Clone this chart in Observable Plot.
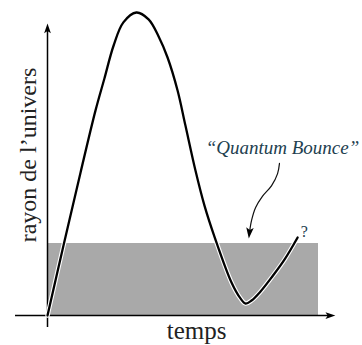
<!DOCTYPE html>
<html>
<head>
<meta charset="utf-8">
<script src="https://cdn.jsdelivr.net/npm/d3@7"></script>
<script src="https://cdn.jsdelivr.net/npm/@observablehq/plot@0.6"></script>
<style>
  html, body { margin: 0; padding: 0; background: #fff; }
  #chart svg { display: block; background: #fff; }
  #chart svg text { font-family: "Liberation Serif", "Times New Roman", serif; }
</style>
</head>
<body>
<div id="chart"></div>
<script>
// ---- data (arbitrary units: time t, radius r) ----
const curveT = [0, 0.59, 1.22, 1.77, 2.10, 2.44, 2.80, 3.28, 3.73, 4.10, 4.43, 4.80, 5.09, 5.46, 5.79, 6.16, 6.79, 7.12, 7.31, 7.53, 7.86, 8.27, 8.75, 9.23];
const curveR = [0, 2.33, 4.77, 6.83, 7.90, 9.00, 9.77, 10.10, 9.87, 9.30, 8.60, 7.50, 6.33, 4.83, 3.67, 2.63, 1.10, 0.57, 0.40, 0.50, 0.80, 1.27, 1.87, 2.60];
const shadeT = [0, 10];
const shadeR = [0, 2.4];
const bounceArrowT = [8.56, 8.49, 8.27, 7.93, 7.68, 7.53, 7.45];
const bounceArrowR = [5.07, 4.73, 4.33, 3.97, 3.60, 3.17, 2.75];
const xAxisT = [-1.18, 10.44];
const yAxisR = [-0.4, 9.57];
const xLabel = "temps";
const yLabel = "rayon de l\u2019univers";
const bounceLabel = "\u201CQuantum Bounce\u201D";
const endLabel = "?";

const curve = curveT.map((t, i) => ({t, r: curveR[i]}));
const bounceArrow = bounceArrowT.map((t, i) => ({t, r: bounceArrowR[i]}));

function head(angleDeg) {
  const a = angleDeg * Math.PI / 180, c = Math.cos(a), s0 = Math.sin(a);
  return {
    draw(ctx, size) {
      const s = Math.sqrt(size / Math.PI);
      const pts = [[0, -1.1 * s], [0.75 * s, 1.1 * s], [0, 0.6 * s], [-0.75 * s, 1.1 * s]]
        .map(([x, y]) => [x * c - y * s0, x * s0 + y * c]);
      ctx.moveTo(pts[0][0], pts[0][1]);
      for (let i = 1; i < pts.length; ++i) ctx.lineTo(pts[i][0], pts[i][1]);
      ctx.closePath();
    }
  };
}

const serif = "Liberation Serif";

const chart = Plot.plot({
  width: 362,
  height: 345,
  marginLeft: 47,
  marginRight: 44,
  marginTop: 15,
  marginBottom: 30,
  x: {domain: [0, 10], axis: null},
  y: {domain: [0, 10], axis: null},
  style: {background: "#fff"},
  marks: [
    Plot.rect([{}], {x1: shadeT[0], x2: shadeT[1], y1: shadeR[0], y2: shadeR[1], fill: "#a9a9a9"}),
    Plot.ruleY([0], {x1: xAxisT[0], x2: xAxisT[1], stroke: "#000", strokeWidth: 1.5}),
    Plot.ruleX([0], {y1: yAxisR[0], y2: yAxisR[1], stroke: "#000", strokeWidth: 1.5}),
    Plot.dot([{}], {x: xAxisT[1], y: 0, r: 4.5, symbol: head(90), fill: "#000", stroke: "none"}),
    Plot.dot([{}], {x: 0, y: yAxisR[1], r: 4.5, symbol: head(0), fill: "#000", stroke: "none"}),
    Plot.line(curve, {x: "t", y: "r", curve: "catmull-rom", stroke: "#fff", strokeWidth: 4.5}),
    Plot.line(curve, {x: "t", y: "r", curve: "catmull-rom", stroke: "#000", strokeWidth: 2.3}),
    Plot.line(bounceArrow, {x: "t", y: "r", curve: "catmull-rom", stroke: "#111", strokeWidth: 1.2}),
    Plot.dot([{}], {x: bounceArrowT[bounceArrowT.length - 1], y: bounceArrowR[bounceArrowR.length - 1], r: 5, symbol: head(186), fill: "#000", stroke: "none"}),
    Plot.text([xLabel], {x: 5.5, y: -0.77, text: d => d, fontFamily: serif, fontSize: 25, lineAnchor: "bottom", fill: "#222"}),
    Plot.text([yLabel], {x: -0.41, y: 5.35, text: d => d, fontFamily: serif, fontSize: 24, rotate: -90, lineAnchor: "bottom", fill: "#222"}),
    Plot.text([bounceLabel], {x: 8.67, y: 5.6, text: d => d, fontFamily: serif, fontSize: 19, fontStyle: "italic", fill: "#22404f"}),
    Plot.text([endLabel], {x: 9.48, y: 2.8, text: d => d, fontFamily: serif, fontSize: 16, fill: "#22404f"})
  ]
});
document.getElementById("chart").appendChild(chart);
</script>
</body>
</html>
